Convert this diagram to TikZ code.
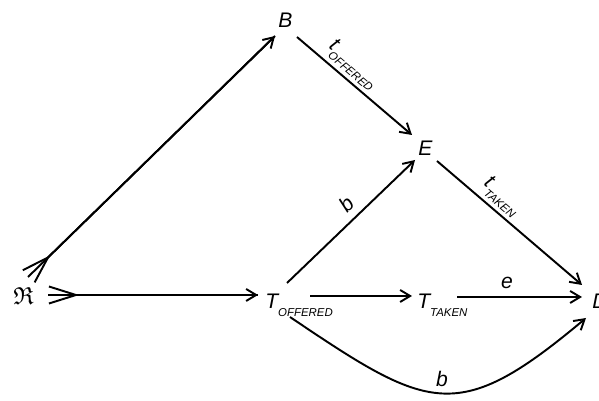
\documentclass[tikz,border=0pt]{standalone}
\usepackage{amssymb}
\usepackage{fontspec}
\setmainfont{Liberation Sans}
\usetikzlibrary{arrows.meta,calc}
\newcommand{\lbl}[2]{#1\raisebox{-4.5pt}{\fontsize{6.5}{7}\selectfont #2}}
\tikzset{vert/.style={inner sep=0pt, anchor=base west, font=\fontsize{12}{14}\selectfont\itshape}, arr/.style={-{Straight Barb[length=2mm,width=2.4mm]}, line width=1.1pt}, tail/.style={arr, postaction={draw, arrows={{Straight Barb[reversed,length=5.4mm,width=3.4mm]}-}}}, lab/.style={font=\fontsize{12}{14}\selectfont\itshape, inner sep=1pt}}
\begin{document}
\begin{tikzpicture}[x=0.02cm,y=0.02cm]
\useasboundingbox (0,0) rectangle (599,-401);
\node[vert,font=\fontsize{14}{16}\selectfont] (R) at (13,-305) {$\mathfrak{R}$};
\node[vert] (B) at (278,-28) {B};
\node[vert] (E) at (418,-156) {E};
\node[vert] (To) at (265,-309) {\lbl{T}{OFFERED}};
\node[vert] (Tt) at (417,-309) {\lbl{T}{TAKEN}};
\node[vert] (D) at (592,-309) {D};
\draw[tail] ([shift={(15,28)}]R.base west) -- ([shift={(-3,-8)}]B.base west);
\draw[tail] ([shift={(35,10)}]R.base west) -- ([shift={(-7,14)}]To.base west);
\draw[arr] ([shift={(19,-9)}]B.base west) -- node[lab,pos=0.4,sloped,above=1pt] {\lbl{t}{OFFERED}} ([shift={(-6,21)}]E.base west);
\draw[arr] ([shift={(22,26)}]To.base west) -- node[lab,pos=0.55,sloped,above=3pt] {b} ([shift={(-3,-4)}]E.base west);
\draw[arr] ([shift={(45,13)}]To.base west) -- ([shift={(-5,13)}]Tt.base west);
\draw[arr] ([shift={(40,12)}]Tt.base west) -- node[lab,pos=0.4,above=3pt] {e} ([shift={(-10,12)}]D.base west);
\draw[arr] ([shift={(19,-5)}]E.base west) -- node[lab,pos=0.38,sloped,above=1pt] {\lbl{t}{TAKEN}} ([shift={(-10,24)}]D.base west);
\draw[arr] ([shift={(25,-8)}]To.base west) to[out=-34,in=-140,looseness=1.45] node[lab,pos=0.5,above=2pt] {b} ([shift={(-6,-9)}]D.base west);
\end{tikzpicture}
\end{document}
